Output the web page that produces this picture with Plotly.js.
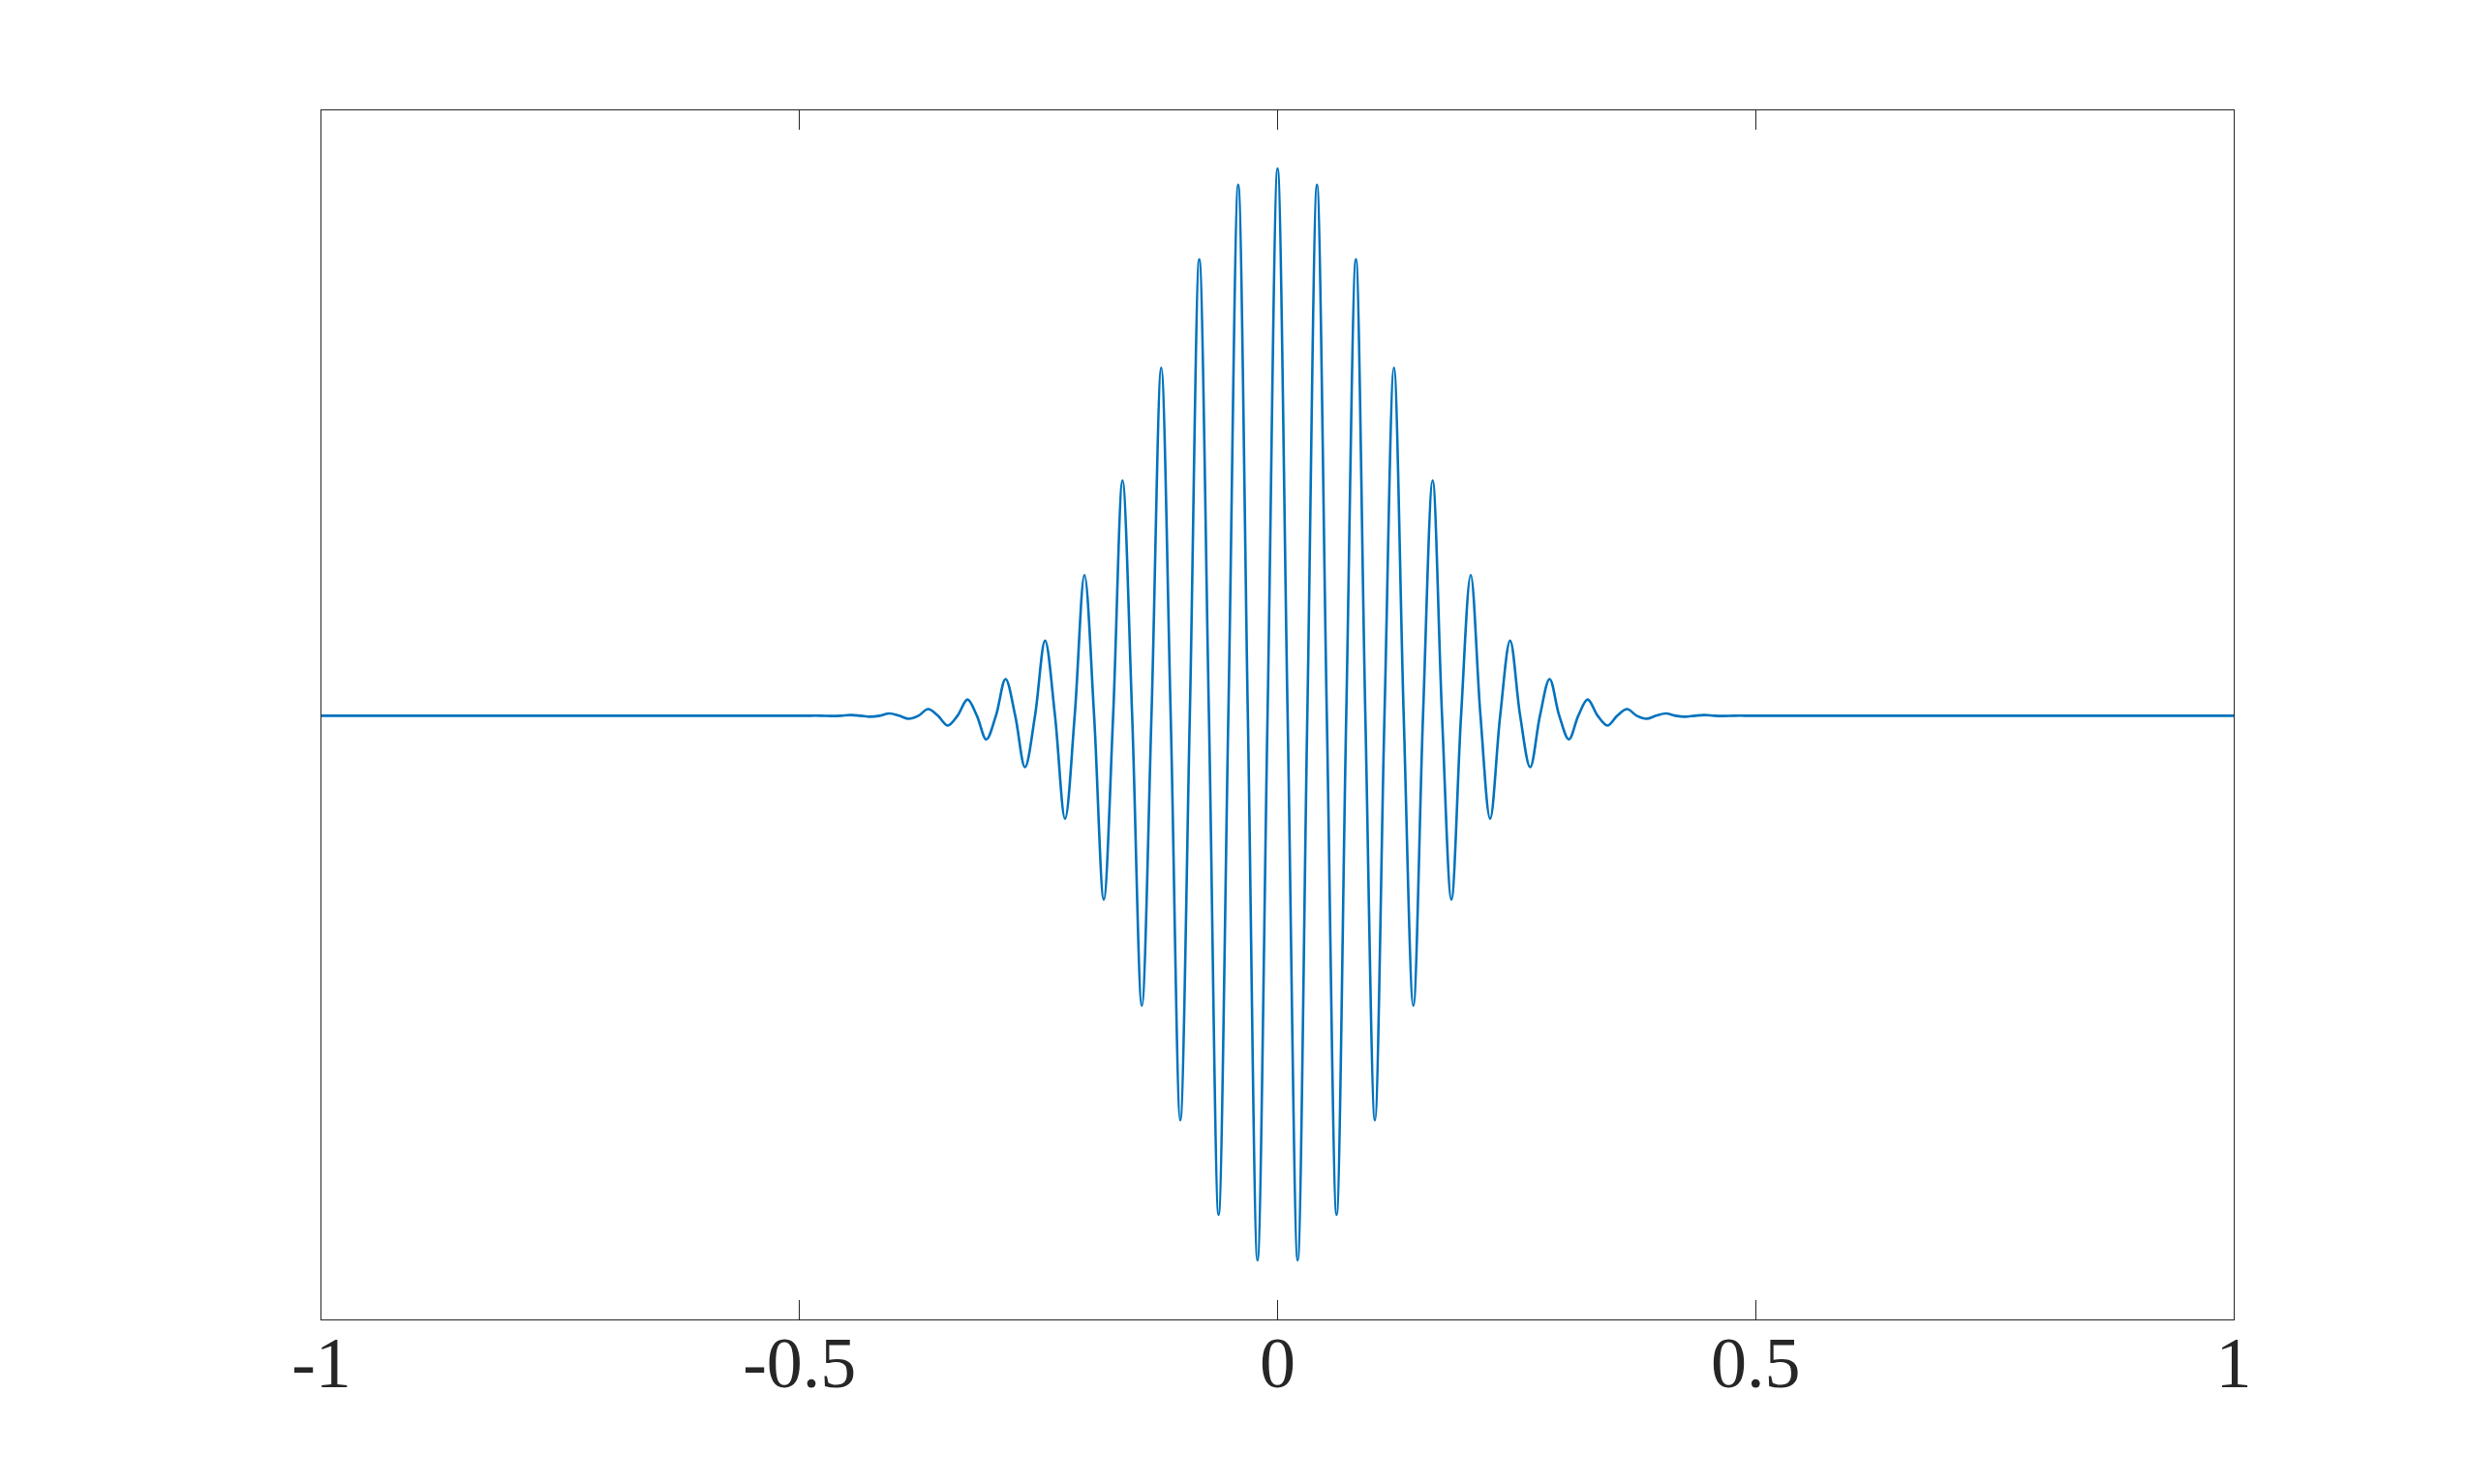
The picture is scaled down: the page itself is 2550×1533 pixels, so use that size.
<!DOCTYPE html>
<html>
<head>
<meta charset="utf-8">
<script src="https://cdn.plot.ly/plotly-3.0.1.min.js"></script>
<style>
    html, body { margin: 0; padding: 0; background: #fff; }
    #myPlot { width: 2550px; height: 1533px; }
</style>
</head>
<body>
<div id="myPlot"></div>
<script>
// points: extrema of the wave packet plus the zero crossings between them
const waveX = [
    -1.0, -0.50, -0.4775, -0.4667, -0.4566, -0.4465, -0.4363, -0.4262, -0.4161, -0.4060,
    -0.3959, -0.3857, -0.3756, -0.3655, -0.3553, -0.3450, -0.3347, -0.3243, -0.3145, -0.3047,
    -0.2946, -0.2845, -0.2744, -0.2642, -0.2537, -0.2432, -0.2328, -0.2223, -0.2122, -0.2020,
    -0.1919, -0.1818, -0.1720, -0.1622, -0.1521, -0.1420, -0.1319, -0.1217, -0.1118, -0.1018,
    -0.0918, -0.0819, -0.0718, -0.0617, -0.0515, -0.0412, -0.0311, -0.0210, -0.0105,
    0.0,
    0.0105, 0.0210, 0.0311, 0.0412, 0.0515, 0.0617, 0.0718, 0.0819, 0.0918, 0.1018,
    0.1118, 0.1217, 0.1319, 0.1420, 0.1521, 0.1622, 0.1720, 0.1818, 0.1919, 0.2020,
    0.2122, 0.2223, 0.2328, 0.2432, 0.2537, 0.2642, 0.2744, 0.2845, 0.2946, 0.3047,
    0.3145, 0.3243, 0.3347, 0.3450, 0.3553, 0.3655, 0.3756, 0.3857, 0.3959, 0.4060,
    0.4161, 0.4262, 0.4363, 0.4465, 0.4566, 0.4667, 0.4775, 0.50, 1.0
];
const waveY = [
    0, 0, 0, -0.0005, 0, 0.0013, 0, -0.0018, 0, 0.0042,
    0, -0.0056, 0, 0.012, 0, -0.0180, 0, 0.0295, 0, -0.0433,
    0, 0.067, 0, -0.094, 0, 0.137, 0, -0.188, 0, 0.257,
    0, -0.336, 0, 0.430, 0, -0.530, 0, 0.636, 0, -0.739,
    0, 0.834, 0, -0.912, 0, 0.970, 0, -0.995, 0,
    1.0,
    0, -0.995, 0, 0.970, 0, -0.912, 0, 0.834, 0, -0.739,
    0, 0.636, 0, -0.530, 0, 0.430, 0, -0.336, 0, 0.257,
    0, -0.188, 0, 0.137, 0, -0.094, 0, 0.067, 0, -0.0433,
    0, 0.0295, 0, -0.0180, 0, 0.012, 0, -0.0056, 0, 0.0042,
    0, -0.0018, 0, 0.0013, 0, -0.0005, 0, 0, 0
];

const tickVals = [-1, -0.5, 0, 0.5, 1];
const tickText = ['-1', '-0.5', '0', '0.5', '1'];

document.addEventListener('DOMContentLoaded', function () {
    const axisColor = '#262626';

    const wave = {
        x: waveX,
        y: waveY,
        type: 'scatter',
        mode: 'lines',
        line: {
            color: '#0072BD',
            width: 2.6,
            shape: 'spline',
            smoothing: 1
        },
        hoverinfo: 'skip'
    };

    const layout = {
        width: 2550,
        height: 1533,
        margin: { l: 332, r: 243, t: 114, b: 170 },
        paper_bgcolor: '#ffffff',
        plot_bgcolor: '#ffffff',
        showlegend: false,
        font: { family: '"Liberation Serif", "DejaVu Serif", serif', color: axisColor },

        xaxis: {
            range: [-1, 1],
            tickvals: tickVals,
            ticktext: tickText,
            ticks: 'inside',
            ticklen: 20,
            tickwidth: 1.3,
            tickcolor: axisColor,
            showline: true,
            linecolor: axisColor,
            linewidth: 1.3,
            mirror: 'ticks',
            showgrid: false,
            zeroline: false,
            ticklabelstandoff: -20,
            tickfont: { size: 74, color: axisColor }
        },

        yaxis: {
            range: [-1.103, 1.106],
            showticklabels: false,
            ticks: '',
            showline: true,
            linecolor: axisColor,
            linewidth: 1.3,
            mirror: true,
            showgrid: false,
            zeroline: false
        }
    };

    Plotly.newPlot('myPlot', [wave], layout, { staticPlot: true, displayModeBar: false });
});
</script>
</body>
</html>
